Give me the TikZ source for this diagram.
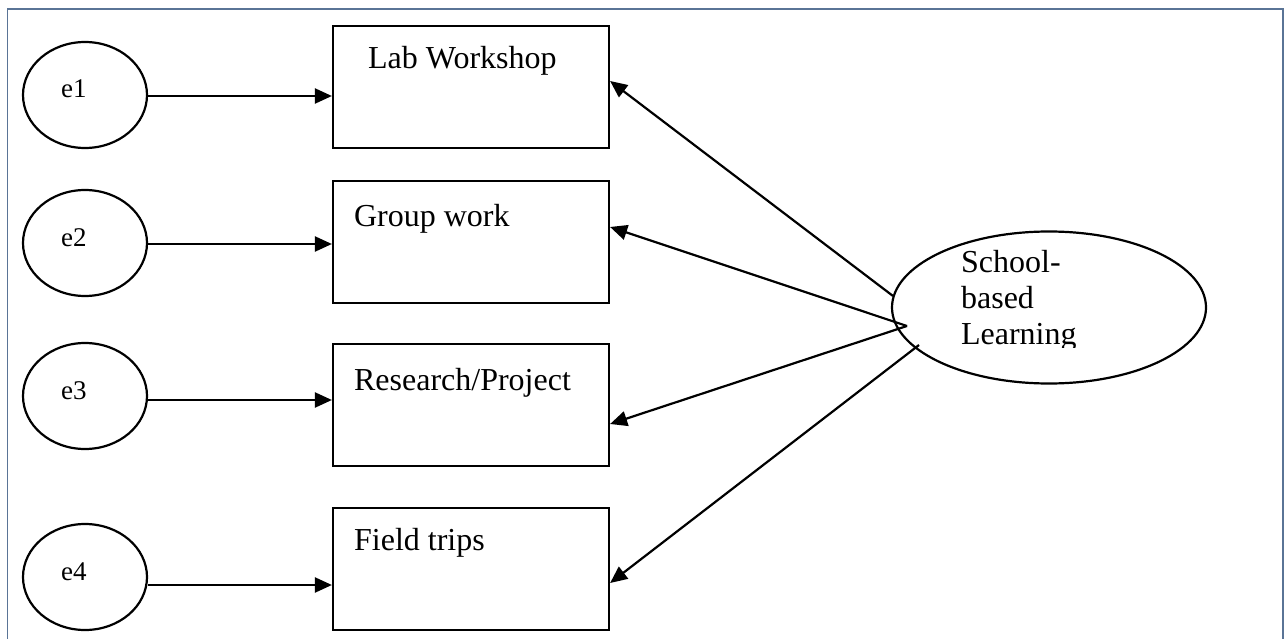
\documentclass[tikz,border=0pt]{standalone}
\usepackage{fontspec}
\setmainfont{Liberation Serif}
\usetikzlibrary{arrows.meta,shapes.geometric}
\definecolor{framecol}{RGB}{90,116,150}
\begin{document}
\begin{tikzpicture}[x=1pt,y=-1pt,
  line width=2.2pt,
  errnode/.style={ellipse,draw,minimum width=124pt,minimum height=106pt,inner sep=0pt},
  itembox/.style={rectangle,draw,minimum width=276pt,minimum height=122pt,inner sep=0pt},
  latent/.style={ellipse,draw,minimum width=314pt,minimum height=152pt,inner sep=0pt},
  boxtext/.style={anchor=base west,inner sep=0pt,font=\fontsize{32}{36}\selectfont},
  errtext/.style={anchor=base west,inner sep=0pt,font=\fontsize{27}{30}\selectfont},
  link/.style={-{Triangle[length=17pt,width=15pt]},line width=2.2pt},
]
\useasboundingbox (0,0) rectangle (1284,639);

% outer frame (open at the bottom)
\draw[framecol,line width=1.5pt] (7.5,639) -- (7.5,9) -- (1283.2,9) -- (1283.2,639);

% error terms
\node[errnode] (e1) at (85,95) {};
\node[errnode] (e2) at (85,243) {};
\node[errnode] (e3) at (85,396) {};
\node[errnode] (e4) at (85,577) {};
\node[errtext] (te1) at (60,98) {e1};
\node[errtext] (te2) at (60,246) {e2};
\node[errtext] (te3) at (60,399) {e3};
\node[errtext] (te4) at (60,580) {e4};

% indicator boxes
\node[itembox] (b1) at (471,87) {};
\node[itembox] (b2) at (471,242) {};
\node[itembox] (b3) at (471,405) {};
\node[itembox] (b4) at (471,569) {};
\node[boxtext] (tb1) at (367,69) {Lab Workshop};
\node[boxtext] (tb2) at (353,226) {Group work};
\node[boxtext] (tb3) at (353,390) {Research/Project};
\node[boxtext] (tb4) at (353,550) {Field trips};

% latent factor
\node[latent] (sbl) at (1049,307.5) {};
\begin{scope}
  \clip (950,235) rectangle (1150,347);
  \node[boxtext] (ts1) at (960,272) {School-};
  \node[boxtext] (ts2) at (960,308) {based};
  \node[boxtext] (ts3) at (960,344) {Learning};
\end{scope}

% error -> indicator
\draw[link] ([yshift=-1pt]e1.east) -- ([yshift=-1pt]e1.east -| b1.west);
\draw[link] ([yshift=-1pt]e2.east) -- ([yshift=-1pt]e2.east -| b2.west);
\draw[link] ([yshift=-4pt]e3.east) -- ([yshift=-4pt]e3.east -| b3.west);
\draw[link] ([yshift=-8pt]e4.east) -- ([yshift=-8pt]e4.east -| b4.west);

% factor -> indicators
\coordinate (s1) at (893,296);
\coordinate (s2) at (907,326);
\coordinate (s4) at (919,345);
\draw[link] (s1) -- ([yshift=6pt]b1.east);
\draw[link] (s2) -- ([yshift=15pt]b2.east);
\draw[link] (s2) -- ([yshift=-19pt]b3.east);
\draw[link] (s4) -- ([yshift=-14pt]b4.east);
\end{tikzpicture}
\end{document}
